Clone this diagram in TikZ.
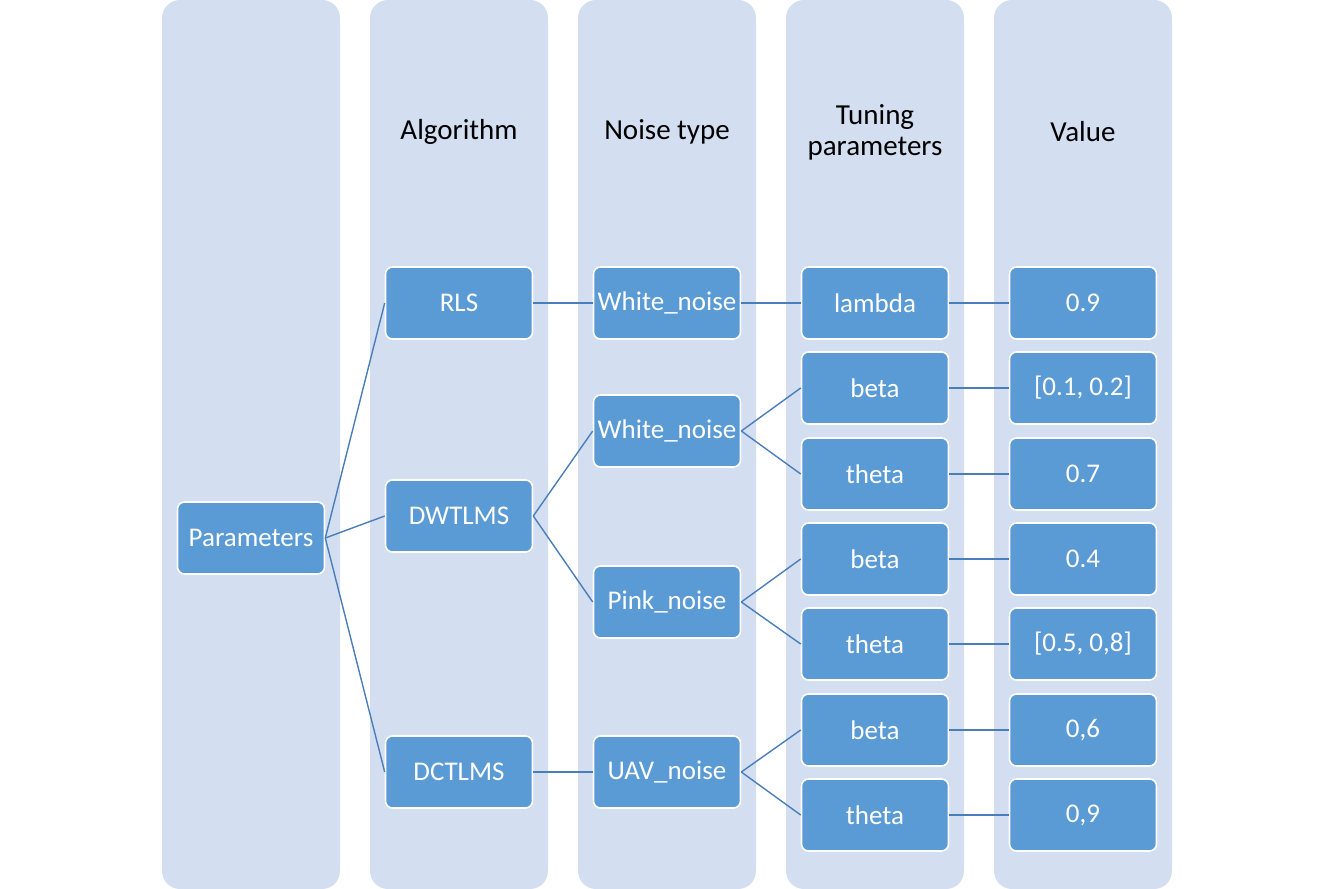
\documentclass[tikz,border=0pt]{standalone}
\usepackage{fontspec}
\setmainfont{Carlito}
\definecolor{colbg}{HTML}{D3DEF0}
\definecolor{nodefill}{HTML}{5B9BD5}
\definecolor{linec}{HTML}{4A7EBB}
\tikzset{
  colbox/.style={fill=colbg, draw=none, rounded corners=18pt},
  item/.style={fill=nodefill, draw=white, line width=1.6pt, rounded corners=7pt,
    minimum width=147pt, minimum height=72pt, text=white, inner sep=0pt,
    font=\fontsize{27}{32}\selectfont},
  head/.style={text=black, align=center, font=\fontsize{29}{31}\selectfont},
  conn/.style={draw=linec, line width=1.4pt}
}
\begin{document}
\begin{tikzpicture}[x=1pt,y=-1pt]
\useasboundingbox (0,0) rectangle (1334,889);
% columns
\foreach \x in {162,370,578,786,994}{
  \fill[colbox] (\x,0) rectangle ++(178,889);
}
% headers
\node[head] (h2) at (459,132) {Algorithm};
\node[head] (h3) at (667,132) {Noise type};
\node[head] (h4) at (875,132) {Tuning\\parameters};
\node[head] (h5) at (1083,132) {Value};
% nodes
\node[item] (par) at (251,538) {Parameters};
\node[item] (rls) at (459,303) {RLS};
\node[item] (dwt) at (459,516) {DWTLMS};
\node[item] (dct) at (459,772) {DCTLMS};
\node[item] (wn1) at (667,303) {White\_noise};
\node[item] (wn2) at (667,431) {White\_noise};
\node[item] (pink) at (667,602) {Pink\_noise};
\node[item] (uav) at (667,772) {UAV\_noise};
\node[item] (lam) at (875,303) {lambda};
\node[item] (b1) at (875,388) {beta};
\node[item] (t1) at (875,474) {theta};
\node[item] (b2) at (875,559) {beta};
\node[item] (t2) at (875,644) {theta};
\node[item] (b3) at (875,730) {beta};
\node[item] (t3) at (875,815) {theta};
\node[item] (v1) at (1083,303) {0.9};
\node[item] (v2) at (1083,388) {[0.1, 0.2]};
\node[item] (v3) at (1083,474) {0.7};
\node[item] (v4) at (1083,559) {0.4};
\node[item] (v5) at (1083,644) {[0.5, 0,8]};
\node[item] (v6) at (1083,730) {0,6};
\node[item] (v7) at (1083,815) {0,9};
% connectors
\draw[conn] (par.east) -- (rls.west);
\draw[conn] (par.east) -- (dwt.west);
\draw[conn] (par.east) -- (dct.west);
\draw[conn] (rls.east) -- (wn1.west);
\draw[conn] (dwt.east) -- (wn2.west);
\draw[conn] (dwt.east) -- (pink.west);
\draw[conn] (dct.east) -- (uav.west);
\draw[conn] (wn1.east) -- (lam.west);
\draw[conn] (wn2.east) -- (b1.west);
\draw[conn] (wn2.east) -- (t1.west);
\draw[conn] (pink.east) -- (b2.west);
\draw[conn] (pink.east) -- (t2.west);
\draw[conn] (uav.east) -- (b3.west);
\draw[conn] (uav.east) -- (t3.west);
\draw[conn] (lam.east) -- (v1.west);
\draw[conn] (b1.east) -- (v2.west);
\draw[conn] (t1.east) -- (v3.west);
\draw[conn] (b2.east) -- (v4.west);
\draw[conn] (t2.east) -- (v5.west);
\draw[conn] (b3.east) -- (v6.west);
\draw[conn] (t3.east) -- (v7.west);
\end{tikzpicture}
\end{document}
